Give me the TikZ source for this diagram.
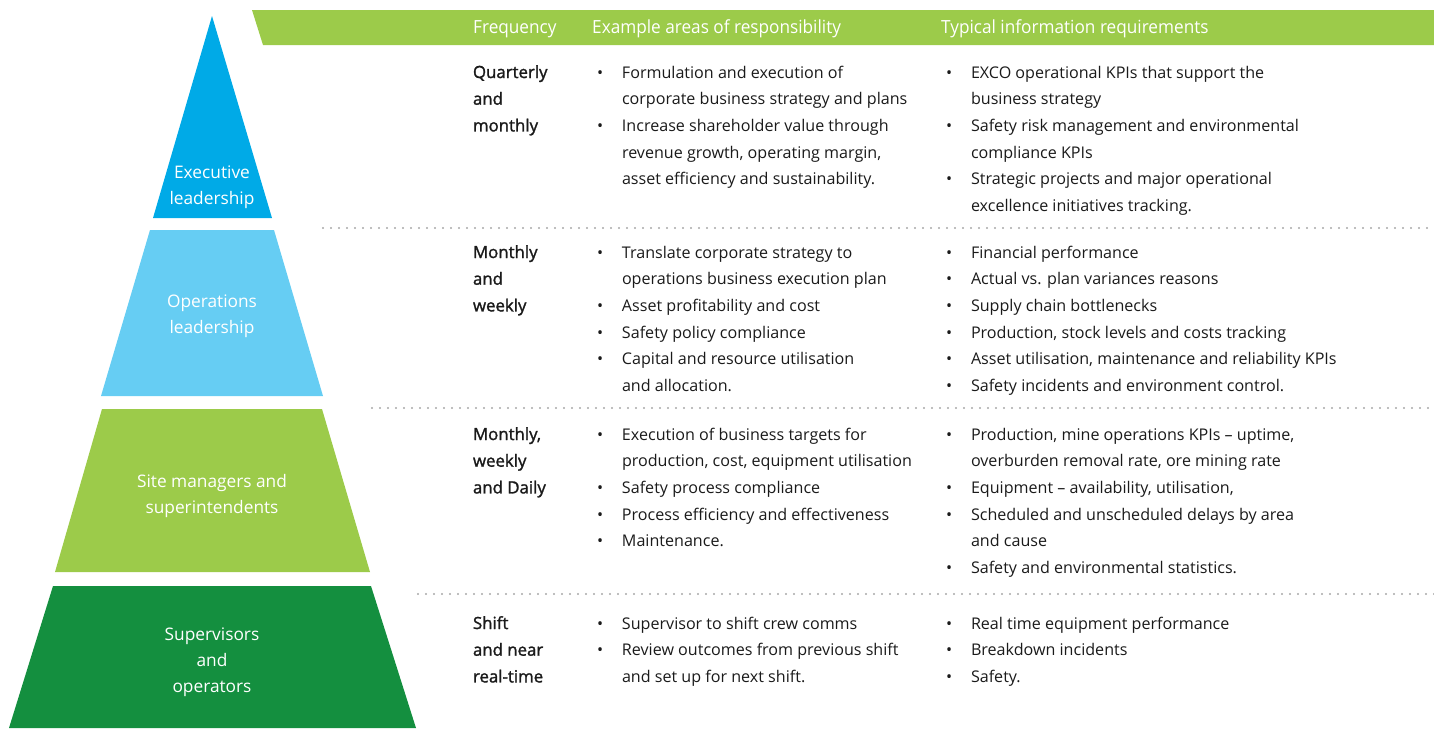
\documentclass[tikz,border=0pt]{standalone}
\usepackage{fontspec}
\setmainfont{Open Sans}
\newfontfamily\medfont{Open Sans}[FakeBold=1.5]
\newfontfamily\hdrfont{Open Sans}[FakeStretch=0.95]
\definecolor{cExec}{HTML}{00AAE7}
\definecolor{cOps}{HTML}{66CDF3}
\definecolor{cSite}{HTML}{9CCB4A}
\definecolor{cSup}{HTML}{148F3F}
\definecolor{cHdr}{HTML}{9CCB4A}
\definecolor{cTxt}{HTML}{1A1A1A}
\definecolor{cDot}{HTML}{A8A8A8}
\newcommand\bli[1]{\makebox[25pt][l]{\textbullet}#1}
\newcommand\cli[1]{\hspace*{25pt}#1}
\newcommand\txtfont{\fontsize{16.1}{26.7}\selectfont}
\newcommand\frqfont{\medfont\fontsize{16.8}{26.7}\selectfont}
\newcommand\tierfont{\fontsize{17.3}{26}\selectfont}
\begin{document}
\begin{tikzpicture}[x=1pt,y=-1pt,
  cell/.style={anchor=base west,inner sep=0pt,outer sep=0pt,text=cTxt,font=\txtfont},
  tier/.style={anchor=base,inner sep=0pt,outer sep=0pt,text=white,font=\tierfont},
  hdr/.style={anchor=base west,inner sep=0pt,text=white,font=\hdrfont\fontsize{18.1}{20}\selectfont},
  dotline/.style={cDot,line width=2.4pt,line cap=round,dash pattern=on 0pt off 8pt}]
\useasboundingbox (0,0) rectangle (1434,728);
% pyramid
\fill[cExec] (212,16) -- (272,218) -- (153,218) -- cycle;
\fill[cOps] (150,230) -- (274,230) -- (323,396) -- (101,396) -- cycle;
\fill[cSite] (102,409) -- (322,409) -- (370,572) -- (55,572) -- cycle;
\fill[cSup] (53,586) -- (371,586) -- (416,728) -- (9,728) -- cycle;
\node[tier] (t1) at (212,178) {\parbox[t]{200pt}{\centering Executive\\ leadership}};
\node[tier] (t2) at (212,307) {\parbox[t]{200pt}{\centering Operations\\ leadership}};
\node[tier] (t3) at (212,487) {\parbox[t]{240pt}{\centering Site managers and\\ superintendents}};
\node[tier] (t4) at (212,640) {\parbox[t]{200pt}{\centering Supervisors\\ and\\ operators}};
% header
\fill[cHdr] (252,10) -- (1434,10) -- (1434,45) -- (263,45) -- cycle;
\node[hdr] (h1) at (473,33.5) {Frequency};
\node[hdr] (h2) at (592,33.5) {Example areas of responsibility};
\node[hdr] (h3) at (941,33.5) {Typical information requirements};
% dotted separators
\coordinate (d1a) at (323,228); \coordinate (d1b) at (1434,228);
\coordinate (d2a) at (372,408); \coordinate (d2b) at (1434,408);
\coordinate (d3a) at (418,594); \coordinate (d3b) at (1434,594);
\draw[dotline] (d1a) -- (d1b);
\draw[dotline] (d2a) -- (d2b);
\draw[dotline] (d3a) -- (d3b);
% row 1
\node[cell] (r1f) at (473,78) {\parbox[t]{110pt}{\frqfont Quarterly\\ and\\ monthly}};
\node[cell] (r1a) at (597,78) {\parbox[t]{340pt}{\bli{Formulation and execution of}\\ \cli{corporate business strategy and plans}\\ \bli{Increase shareholder value through}\\ \cli{revenue growth, operating margin,}\\ \cli{asset efficiency and sustainability.}}};
\node[cell] (r1b) at (946,78) {\parbox[t]{480pt}{\bli{EXCO operational KPIs that support the}\\ \cli{business strategy}\\ \bli{Safety risk management and environmental}\\ \cli{compliance KPIs}\\ \bli{Strategic projects and major operational}\\ \cli{excellence initiatives tracking.}}};
% row 2
\node[cell] (r2f) at (473,258) {\parbox[t]{110pt}{\frqfont Monthly\\ and\\ weekly}};
\node[cell] (r2a) at (597,258) {\parbox[t]{340pt}{\bli{Translate corporate strategy to}\\ \cli{operations business execution plan}\\ \bli{Asset profitability and cost}\\ \bli{Safety policy compliance}\\ \bli{Capital and resource utilisation}\\ \cli{and allocation.}}};
\node[cell] (r2b) at (946,258) {\parbox[t]{480pt}{\bli{Financial performance}\\ \bli{Actual vs. plan variances reasons}\\ \bli{Supply chain bottlenecks}\\ \bli{Production, stock levels and costs tracking}\\ \bli{Asset utilisation, maintenance and reliability KPIs}\\ \bli{Safety incidents and environment control.}}};
% row 3
\node[cell] (r3f) at (473,440) {\parbox[t]{110pt}{\frqfont Monthly,\\ weekly\\ and Daily}};
\node[cell] (r3a) at (597,440) {\parbox[t]{340pt}{\bli{Execution of business targets for}\\ \cli{production, cost, equipment utilisation}\\ \bli{Safety process compliance}\\ \bli{Process efficiency and effectiveness}\\ \bli{Maintenance.}}};
\node[cell] (r3b) at (946,440) {\parbox[t]{480pt}{\bli{Production, mine operations KPIs – uptime,}\\ \cli{overburden removal rate, ore mining rate}\\ \bli{Equipment – availability, utilisation,}\\ \bli{Scheduled and unscheduled delays by area}\\ \cli{and cause}\\ \bli{Safety and environmental statistics.}}};
% row 4
\node[cell] (r4f) at (473,629) {\parbox[t]{110pt}{\frqfont Shift\\ and near\\ real-time}};
\node[cell] (r4a) at (597,629) {\parbox[t]{340pt}{\bli{Supervisor to shift crew comms}\\ \bli{Review outcomes from previous shift}\\ \cli{and set up for next shift.}}};
\node[cell] (r4b) at (946,629) {\parbox[t]{480pt}{\bli{Real time equipment performance}\\ \bli{Breakdown incidents}\\ \bli{Safety.}}};
\end{tikzpicture}
\end{document}
